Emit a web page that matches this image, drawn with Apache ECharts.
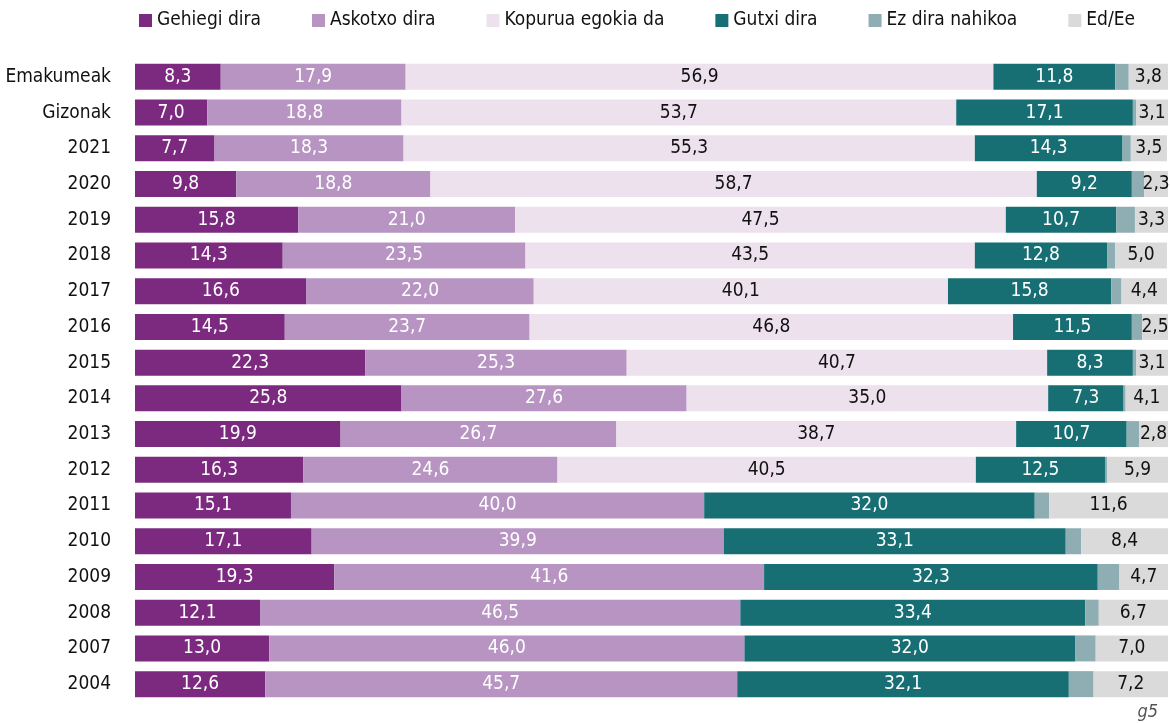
<!DOCTYPE html>
<html>
<head>
<meta charset="utf-8">
<script src="https://cdn.jsdelivr.net/npm/echarts@6/dist/echarts.min.js"></script>
<style>
  html, body { margin: 0; padding: 0; background: #fff; }
  #main { width: 1170px; height: 723px; }
</style>
</head>
<body>
<div id="main"></div>
<script>
var categories = ['Emakumeak', 'Gizonak', '2021', '2020', '2019', '2018', '2017', '2016', '2015',
    '2014', '2013', '2012', '2011', '2010', '2009', '2008', '2007', '2004'];

var gehiegi  = [8.3, 7.0, 7.7, 9.8, 15.8, 14.3, 16.6, 14.5, 22.3, 25.8, 19.9, 16.3, 15.1, 17.1, 19.3, 12.1, 13.0, 12.6];
var askotxo  = [17.9, 18.8, 18.3, 18.8, 21.0, 23.5, 22.0, 23.7, 25.3, 27.6, 26.7, 24.6, 40.0, 39.9, 41.6, 46.5, 46.0, 45.7];
var kopurua  = [56.9, 53.7, 55.3, 58.7, 47.5, 43.5, 40.1, 46.8, 40.7, 35.0, 38.7, 40.5, null, null, null, null, null, null];
var gutxi    = [11.8, 17.1, 14.3, 9.2, 10.7, 12.8, 15.8, 11.5, 8.3, 7.3, 10.7, 12.5, 32.0, 33.1, 32.3, 33.4, 32.0, 32.1];
// ez dira nahikoa: no labels in the picture
var nahikoa  = [1.3, 0.3, 0.8, 1.2, 1.8, 0.8, 1.0, 1.0, 0.3, 0.2, 1.2, 0.2, 1.4, 1.5, 2.1, 1.3, 2.0, 2.4];
var edee     = [3.8, 3.1, 3.5, 2.3, 3.3, 5.0, 4.4, 2.5, 3.1, 4.1, 2.8, 5.9, 11.6, 8.4, 4.7, 6.7, 7.0, 7.2];

var FONT = '"DejaVu Sans Condensed", "Liberation Sans Narrow", sans-serif';

function fmt(p) {
    return p.value == null ? '' : p.value.toFixed(1).replace('.', ',');
}

function serie(name, data, color, labelColor, showLabel) {
    return {
        name: name,
        type: 'bar',
        stack: 'total',
        data: data,
        barWidth: 26,
        itemStyle: { color: color },
        label: {
            show: showLabel,
            position: 'inside',
            color: labelColor,
            fontFamily: FONT,
            fontSize: 19,
            formatter: fmt
        },
        emphasis: { disabled: true }
    };
}

var myChart = echarts.init(document.getElementById('main'));

var option = {
    animation: false,
    legend: {
        top: 6,
        left: 134,
        itemWidth: 13,
        itemHeight: 13,
        itemGap: 51,
        icon: 'rect',
        textStyle: {
            fontFamily: FONT,
            fontSize: 19,
            color: '#111'
        }
    },
    grid: {
        left: 135,
        right: 2,
        top: 59,
        bottom: 21
    },
    xAxis: {
        type: 'value',
        min: 0,
        max: 100,
        show: false
    },
    yAxis: {
        type: 'category',
        inverse: true,
        data: categories,
        axisLine: { show: false },
        axisTick: { show: false },
        axisLabel: {
            margin: 24,
            color: '#111',
            fontFamily: FONT,
            fontSize: 19
        }
    },
    graphic: [{
        type: 'text',
        right: 12,
        bottom: 2,
        style: {
            text: 'g5',
            fill: '#555',
            font: 'italic 18px ' + FONT
        }
    }],
    series: [
        serie('Gehiegi dira', gehiegi, '#7B2A7F', '#fff', true),
        serie('Askotxo dira', askotxo, '#B794C2', '#fff', true),
        serie('Kopurua egokia da', kopurua, '#EDE1EE', '#111', true),
        serie('Gutxi dira', gutxi, '#176F74', '#fff', true),
        serie('Ez dira nahikoa', nahikoa, '#8FAEB4', '#111', false),
        serie('Ed/Ee', edee, '#DADADA', '#111', true)
    ]
};

myChart.setOption(option);
</script>
</body>
</html>
